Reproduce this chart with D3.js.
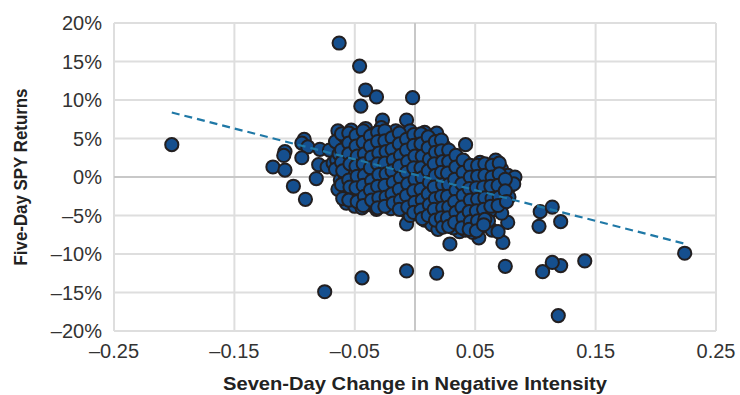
<!DOCTYPE html>
<html>
<head>
<meta charset="utf-8">
<script src="https://cdn.jsdelivr.net/npm/d3@7"></script>
<style>
  html, body { margin: 0; padding: 0; background: #fff; }
  svg { display: block; font-family: "Liberation Sans", Arial, sans-serif; }
</style>
</head>
<body>
<div id="app"></div>
<script>
// x ticks (negative intensity change) and y ticks (returns, %)
const xTicks = [-0.25, -0.15, -0.05, 0.05, 0.15, 0.25];
const xTickLabels = ["–0.25", "–0.15", "–0.05", "0.05", "0.15", "0.25"];
const yTicks = [20, 15, 10, 5, 0, -5, -10, -15, -20];
const yTickLabels = ["20%", "15%", "10%", "5%", "0%", "–5%", "–10%", "–15%", "–20%"];

// fitted line: y = slope * x + intercept (percent)
const trendSlope = -40;
const trendIntercept = 0.3;
const trendRange = [-0.202, 0.225];

// scattered points away from the main blob [x, y%]
const outerPoints = [
  [-0.202, 4.2], [-0.063, 17.4], [-0.046, 14.4], [-0.041, 11.3], [-0.032, 10.4],
  [-0.045, 9.2], [-0.002, 10.3], [-0.027, 7.4], [-0.007, 7.4], [0.042, 4.2],
  [0.224, -9.9], [0.119, -18.0], [0.141, -10.9], [0.121, -11.5], [0.114, -11.1],
  [0.106, -12.3], [0.075, -11.6], [0.103, -6.4], [0.104, -4.5], [0.114, -3.9],
  [0.121, -5.8], [0.073, -8.5], [0.077, -5.9], [-0.044, -13.1], [-0.075, -14.9],
  [-0.007, -12.2], [0.018, -12.5], [0.029, -8.7], [-0.007, -6.1], [0.053, -7.9],
  [0.037, -7.1], [0.064, -4.3], [0.068, -4.1], [0.072, -4.7], [0.064, -6.9], [0.069, -7.1]
];

// left-hand group
const leftPoints = [
  [-0.108, 3.3], [-0.109, 2.8], [-0.118, 1.3], [-0.108, 0.9], [-0.101, -1.2],
  [-0.091, -2.9], [-0.092, 4.9], [-0.094, 4.4], [-0.089, 3.9], [-0.094, 2.5],
  [-0.082, -0.2], [-0.079, 3.6], [-0.080, 1.6], [-0.073, 1.3], [-0.071, 3.5],
  [-0.068, 1.8], [-0.061, 3.9], [-0.065, 2.2], [-0.058, -1.3], [-0.058, -2.6], [-0.057, -3.4]
];

// dense centre
const clusterPoints = [
  [-0.064, 6.0], [-0.066, 4.6], [-0.063, 3.0], [-0.066, 1.0], [-0.062, -0.4], [-0.064, -1.6],
  [-0.058, 5.2], [-0.057, 4.0], [-0.059, 2.6], [-0.056, 1.4], [-0.058, 0.2], [-0.055, -2.0],
  [-0.053, 6.1], [-0.051, 4.7], [-0.052, 3.3], [-0.050, 2.0], [-0.053, 0.8], [-0.051, -0.7], [-0.052, -2.5], [-0.050, -3.8],
  [-0.046, 5.4], [-0.045, 3.8], [-0.047, 2.4], [-0.044, 1.0], [-0.046, -0.3], [-0.045, -1.6], [-0.047, -3.0], [-0.044, -4.0],
  [-0.041, 6.3], [-0.039, 4.9], [-0.040, 3.4], [-0.038, 2.0], [-0.041, 0.5], [-0.039, -1.0], [-0.040, -2.4], [-0.038, -3.6],
  [-0.034, 5.6], [-0.033, 4.2], [-0.035, 2.8], [-0.032, 1.3], [-0.034, -0.2], [-0.033, -1.8], [-0.035, -3.1], [-0.032, -4.2],
  [-0.028, 6.4], [-0.027, 5.0], [-0.029, 3.6], [-0.026, 2.2], [-0.028, 0.7], [-0.027, -0.8], [-0.029, -2.2], [-0.026, -3.6],
  [-0.022, 5.6], [-0.021, 4.2], [-0.023, 2.8], [-0.020, 1.4], [-0.022, 0.0], [-0.021, -1.5], [-0.023, -2.9], [-0.020, -4.1],
  [-0.016, 6.0], [-0.015, 4.6], [-0.017, 3.2], [-0.014, 1.8], [-0.016, 0.4], [-0.015, -1.0], [-0.017, -2.5], [-0.014, -3.8],
  [-0.010, 5.3], [-0.009, 3.9], [-0.011, 2.4], [-0.008, 1.0], [-0.010, -0.5], [-0.009, -2.0], [-0.011, -3.3], [-0.008, -4.4],
  [-0.004, 6.0], [-0.003, 4.5], [-0.005, 3.0], [-0.002, 1.6], [-0.004, 0.2], [-0.003, -1.3], [-0.005, -2.8], [-0.002, -4.0], [-0.004, -5.0],
  [0.002, 5.2], [0.003, 3.8], [0.001, 2.3], [0.004, 0.8], [0.002, -0.7], [0.003, -2.2], [0.001, -3.6], [0.004, -4.8],
  [0.008, 5.8], [0.009, 4.4], [0.007, 2.9], [0.010, 1.4], [0.008, 0.0], [0.009, -1.5], [0.007, -3.0], [0.010, -4.3], [0.008, -5.6],
  [0.014, 5.0], [0.015, 3.6], [0.013, 2.1], [0.016, 0.6], [0.014, -0.9], [0.015, -2.4], [0.013, -3.8], [0.016, -5.0], [0.014, -6.2],
  [0.018, 5.7], [0.019, 4.3], [0.020, 2.8], [0.018, 1.3], [0.021, -0.2], [0.019, -1.7], [0.020, -3.2], [0.018, -4.5], [0.021, -5.7], [0.019, -6.8],
  [0.024, 4.0], [0.025, 2.5], [0.026, 1.0], [0.024, -0.5], [0.026, -2.0], [0.025, -3.5], [0.024, -4.9], [0.026, -6.2],
  [0.030, 3.0], [0.031, 1.6], [0.032, 0.2], [0.030, -1.3], [0.032, -2.8], [0.031, -4.2], [0.030, -5.5], [0.032, -6.6],
  [0.036, 2.4], [0.037, 0.9], [0.038, -0.6], [0.036, -2.1], [0.038, -3.5], [0.037, -4.9], [0.036, -6.1],
  [0.042, 1.8], [0.043, 0.3], [0.044, -1.2], [0.042, -2.7], [0.044, -4.2], [0.043, -5.6], [0.042, -6.9],
  [0.048, 1.2], [0.049, -0.3], [0.050, -1.8], [0.048, -3.3], [0.050, -4.7], [0.049, -6.0], [0.048, -7.2],
  [0.054, 1.9], [0.055, 0.5], [0.056, -1.0], [0.054, -2.5], [0.056, -4.0], [0.055, -5.3], [0.054, -6.5],
  [0.060, 1.4], [0.061, -0.1], [0.062, -1.6], [0.060, -3.0], [0.062, -4.4], [0.061, -5.7],
  [0.067, 2.2], [0.066, 0.7], [0.068, -0.8], [0.066, -2.3], [0.068, -3.6],
  [0.072, 1.0], [0.073, -0.5], [0.071, -2.0], [0.073, -3.2],
  [0.077, 0.2], [0.079, -1.2], [0.078, -2.6],
  [0.083, 0.0], [0.082, -0.9]
];

// points lying between the ones above, filling the blob
const fillPoints = [
  [-0.061, 5.6], [-0.061, 3.5], [-0.061, 1.9], [-0.060, 0.8], [-0.061, -1.0], [-0.060, -2.8],
  [-0.055, 5.7], [-0.055, 4.4], [-0.055, 3.0], [-0.054, 1.7], [-0.055, -0.4], [-0.054, -1.3], [-0.055, -3.0],
  [-0.049, 5.4], [-0.049, 4.0], [-0.048, 2.7], [-0.049, 1.4], [-0.048, 0.1], [-0.049, -1.4], [-0.048, -3.2],
  [-0.043, 6.0], [-0.043, 4.5], [-0.042, 3.0], [-0.043, 1.7], [-0.042, 0.2], [-0.043, -1.1], [-0.042, -2.5], [-0.043, -3.7],
  [-0.037, 5.3], [-0.037, 4.0], [-0.036, 2.6], [-0.037, 1.2], [-0.036, -0.5], [-0.037, -1.7], [-0.036, -3.0],
  [-0.031, 5.8], [-0.031, 4.6], [-0.030, 3.1], [-0.031, 1.7], [-0.030, 0.3], [-0.031, -1.2], [-0.030, -2.7], [-0.031, -4.0],
  [-0.025, 6.0], [-0.025, 4.7], [-0.024, 3.3], [-0.025, 1.8], [-0.024, 0.4], [-0.025, -1.1], [-0.024, -2.6], [-0.025, -3.8],
  [-0.019, 5.1], [-0.019, 3.6], [-0.018, 2.2], [-0.019, 0.8], [-0.018, -0.7], [-0.019, -2.2], [-0.018, -3.4],
  [-0.013, 5.7], [-0.013, 4.3], [-0.012, 2.8], [-0.013, 1.4], [-0.012, -0.1], [-0.013, -1.6], [-0.012, -3.0], [-0.013, -4.2],
  [-0.007, 4.9], [-0.007, 3.5], [-0.006, 2.0], [-0.007, 0.6], [-0.006, -0.9], [-0.007, -2.4], [-0.006, -3.9],
  [-0.001, 5.5], [-0.001, 4.1], [0.000, 2.7], [-0.001, 1.2], [0.000, -0.3], [-0.001, -1.8], [0.000, -3.3], [-0.001, -4.6],
  [0.005, 5.6], [0.005, 4.3], [0.006, 2.7], [0.005, 1.2], [0.006, -0.1], [0.005, -1.6], [0.006, -3.0], [0.005, -4.3], [0.006, -5.4],
  [0.011, 5.2], [0.011, 3.8], [0.012, 2.3], [0.011, 0.8], [0.012, -0.7], [0.011, -2.2], [0.012, -3.6], [0.011, -5.0],
  [0.017, 4.6], [0.017, 3.2], [0.016, 1.7], [0.017, 0.2], [0.016, -1.3], [0.017, -2.8], [0.016, -4.2], [0.017, -5.6],
  [0.022, 4.8], [0.022, 3.4], [0.023, 2.0], [0.022, 0.6], [0.023, -1.0], [0.022, -2.5], [0.023, -4.0], [0.022, -5.3], [0.023, -6.5],
  [0.028, 3.5], [0.028, 2.0], [0.027, 0.5], [0.028, -1.0], [0.027, -2.5], [0.028, -3.9], [0.027, -5.3], [0.028, -6.4],
  [0.034, 2.8], [0.034, 1.3], [0.033, -0.3], [0.034, -1.7], [0.033, -3.2], [0.034, -4.6], [0.033, -5.9],
  [0.040, 2.2], [0.040, 0.6], [0.039, -0.9], [0.040, -2.4], [0.039, -3.9], [0.040, -5.3], [0.039, -6.6],
  [0.046, 1.5], [0.046, 0.0], [0.045, -1.5], [0.046, -3.0], [0.045, -4.5], [0.046, -5.8], [0.045, -6.8],
  [0.052, 1.5], [0.052, 0.1], [0.051, -1.4], [0.052, -2.9], [0.051, -4.4], [0.052, -5.7], [0.051, -7.0],
  [0.058, 1.7], [0.058, 0.2], [0.057, -1.3], [0.058, -2.7], [0.057, -4.2], [0.058, -5.5], [0.057, -6.2],
  [0.064, 1.5], [0.064, 0.0], [0.063, -1.2], [0.064, -2.8], [0.063, -3.8],
  [0.070, 1.8], [0.070, 0.4], [0.069, -1.1], [0.070, -2.6], [0.069, -3.7],
  [0.075, -0.3], [0.075, -1.8], [0.076, -3.2]
];

const width = 740, height = 395;
const margin = { top: 23, right: 24, bottom: 64, left: 114 };

const svg = d3.select("#app").append("svg")
  .attr("width", width)
  .attr("height", height);

const x = d3.scaleLinear().domain([-0.25, 0.25]).range([margin.left, width - margin.right]);
const y = d3.scaleLinear().domain([-20, 20]).range([height - margin.bottom, margin.top]);

// grid
const grid = svg.append("g");
grid.selectAll("line.v")
  .data(xTicks)
  .join("line")
  .attr("x1", d => x(d)).attr("x2", d => x(d))
  .attr("y1", y(20)).attr("y2", y(-20))
  .attr("stroke", "#dedede").attr("stroke-width", 2);
grid.selectAll("line.h")
  .data(yTicks.filter(d => d !== 0))
  .join("line")
  .attr("x1", x(-0.25)).attr("x2", x(0.25))
  .attr("y1", d => y(d)).attr("y2", d => y(d))
  .attr("stroke", "#dedede").attr("stroke-width", 2);

// zero lines a bit darker
grid.append("line")
  .attr("x1", x(0)).attr("x2", x(0)).attr("y1", y(20)).attr("y2", y(-20))
  .attr("stroke", "#c8c8c8").attr("stroke-width", 2);
grid.append("line")
  .attr("x1", x(-0.25)).attr("x2", x(0.25)).attr("y1", y(0)).attr("y2", y(0))
  .attr("stroke", "#c8c8c8").attr("stroke-width", 2);

// tick labels
svg.append("g").selectAll("text")
  .data(yTicks)
  .join("text")
  .attr("x", margin.left - 12)
  .attr("y", d => y(d))
  .attr("dy", "0.36em")
  .attr("text-anchor", "end")
  .attr("font-size", 20)
  .attr("fill", "#333")
  .text((d, i) => yTickLabels[i]);

svg.append("g").selectAll("text")
  .data(xTicks)
  .join("text")
  .attr("x", d => x(d))
  .attr("y", height - margin.bottom + 27)
  .attr("text-anchor", "middle")
  .attr("font-size", 20)
  .attr("fill", "#333")
  .text((d, i) => xTickLabels[i]);

// points
const allPoints = [...outerPoints, ...leftPoints, ...clusterPoints, ...fillPoints];
svg.append("g").selectAll("circle")
  .data(allPoints)
  .join("circle")
  .attr("cx", d => x(d[0]))
  .attr("cy", d => y(d[1]))
  .attr("r", 6.6)
  .attr("fill", "#154f8e")
  .attr("stroke", "#231f20")
  .attr("stroke-width", 2);

// trend line on top
svg.append("line")
  .attr("x1", x(trendRange[0])).attr("y1", y(trendSlope * trendRange[0] + trendIntercept))
  .attr("x2", x(trendRange[1])).attr("y2", y(trendSlope * trendRange[1] + trendIntercept))
  .attr("stroke", "#1f78a6")
  .attr("stroke-width", 2.2)
  .attr("stroke-dasharray", "8,5");

// axis titles
svg.append("text")
  .attr("x", (x(-0.25) + x(0.25)) / 2)
  .attr("y", height - 5)
  .attr("text-anchor", "middle")
  .attr("font-size", 19)
  .attr("font-weight", "bold")
  .attr("fill", "#222")
  .attr("textLength", 384)
  .attr("lengthAdjust", "spacingAndGlyphs")
  .text("Seven-Day Change in Negative Intensity");

svg.append("text")
  .attr("transform", `translate(27,${y(0)}) rotate(-90)`)
  .attr("text-anchor", "middle")
  .attr("font-size", 19)
  .attr("font-weight", "bold")
  .attr("fill", "#222")
  .attr("textLength", 177)
  .attr("lengthAdjust", "spacingAndGlyphs")
  .text("Five-Day SPY Returns");
</script>
</body>
</html>
